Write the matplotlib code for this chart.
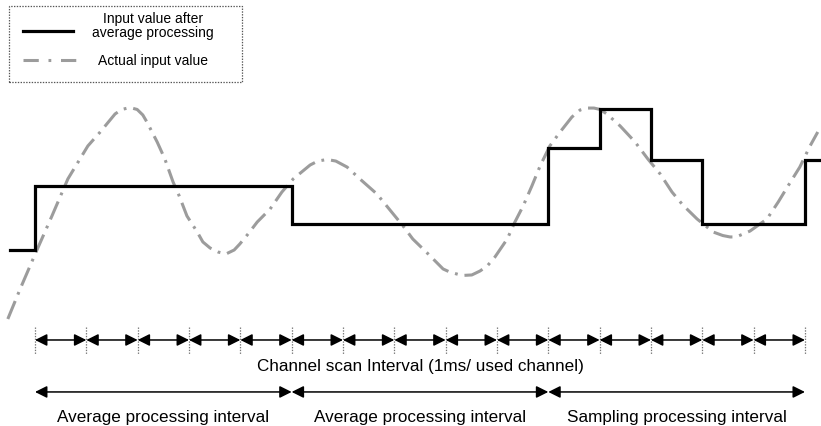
import matplotlib.pyplot as plt
from matplotlib.patches import Rectangle
from matplotlib.lines import Line2D

plt.rcParams['font.family'] = ['Liberation Sans', 'DejaVu Sans']
plt.rcParams['lines.scale_dashes'] = False

# Данные: время в интервалах опроса канала, значение в условных единицах
step_t = [-0.49, 0, 5, 10, 11, 12, 13, 15, 15.32]
step_v = [0, 5, 2, 8, 11, 7, 2, 7, 7]

actual_t = [-0.53, -0.29, 0.02, 0.33, 0.64, 1.03, 1.27, 1.56, 1.69, 1.85,
            1.99, 2.10, 2.18, 2.38, 2.53, 2.69, 2.81, 2.96, 3.16, 3.27,
            3.41, 3.57, 3.72, 3.88, 3.99, 4.15, 4.33, 4.58, 4.81, 5.03,
            5.36, 5.51, 5.69, 5.86, 6.08, 6.33, 6.66, 6.98, 7.17, 7.36,
            7.66, 7.95, 8.08, 8.32, 8.51, 8.67, 8.81, 8.96, 9.20, 9.35,
            9.51, 9.68, 9.84, 10.03, 10.23, 10.46, 10.62, 10.75, 10.89, 11.01,
            11.14, 11.40, 11.69, 11.94, 12.18, 12.41, 12.62, 12.90, 13.21, 13.40,
            13.54, 13.66, 13.93, 14.26, 14.48, 14.67, 14.90, 15.10, 15.25]
actual_v = [-5.39, -3.05, -0.16, 2.66, 5.55, 8.13, 9.22, 10.63, 10.98, 11.13,
            10.98, 10.55, 10.0, 8.44, 7.11, 5.31, 4.22, 2.66, 1.41, 0.63,
            0.16, -0.16, -0.31, 0.0, 0.47, 1.25, 2.19, 3.20, 4.53, 5.55,
            6.64, 6.95, 7.07, 6.95, 6.48, 5.55, 4.38, 2.81, 1.88, 0.86,
            -0.31, -1.48, -1.72, -1.99, -1.95, -1.64, -1.25, -0.55, 0.86, 2.19,
            3.44, 5.0, 6.56, 8.13, 9.22, 10.39, 10.94, 11.09, 11.09, 10.98,
            10.63, 9.69, 8.44, 7.11, 5.94, 4.53, 3.52, 2.42, 1.41, 1.13,
            1.02, 1.02, 1.48, 2.42, 3.75, 5.0, 6.48, 8.13, 9.22]

scan_ticks = list(range(16))          # интервалы опроса канала
process_ticks = [0, 5, 10, 15]        # интервалы обработки
process_labels = ["Average processing interval",
                  "Average processing interval",
                  "Sampling processing interval"]

black_label = "Input value after\naverage processing"
gray_label = "Actual input value"
scan_label = "Channel scan Interval (1ms/ used channel)"

gray = '#9c9c9c'
dash = (0, (14, 5, 2, 5))

fig = plt.figure(figsize=(8.21, 4.27), dpi=100)
ax = fig.add_axes([0, 0, 1, 1])
ax.set_xlim(-0.682, 15.313)
ax.set_ylim(-13.75, 19.61)
ax.axis('off')

# Кривые
ax.plot(actual_t, actual_v, color=gray, lw=2.2, linestyle=dash)
ax.step(step_t, step_v, where='post', color='black', lw=2.3,
        solid_joinstyle='miter')

# Интервалы опроса
row1 = -7.03
for t in scan_ticks:
    ax.plot([t, t], [-6.0, -8.1], color='#777777', lw=0.9, linestyle=(0, (1, 1)))
for a, b in zip(scan_ticks[:-1], scan_ticks[1:]):
    ax.annotate('', xy=(b, row1), xytext=(a, row1),
                arrowprops=dict(arrowstyle='<|-|>,head_length=0.72,head_width=0.36',
                                mutation_scale=10, color='black', lw=1.1,
                                shrinkA=0, shrinkB=0))
ax.text((scan_ticks[0] + scan_ticks[-1]) / 2, -9.06, scan_label,
        ha='center', va='center', fontsize=12.3)

# Интервалы обработки
row2 = -11.09
for a, b, lab in zip(process_ticks[:-1], process_ticks[1:], process_labels):
    ax.annotate('', xy=(b, row2), xytext=(a, row2),
                arrowprops=dict(arrowstyle='<|-|>,head_length=0.72,head_width=0.36',
                                mutation_scale=10, color='black', lw=1.1,
                                shrinkA=0, shrinkB=0))
    ax.text((a + b) / 2, -12.97, lab, ha='center', va='center', fontsize=12.3)

# Легенда
ax.add_patch(Rectangle((0.011, 0.806), 0.284, 0.178, transform=ax.transAxes,
                       fill=False, edgecolor='#555555', lw=0.9,
                       linestyle=(0, (1, 1))))
ax.add_line(Line2D([0.028, 0.089], [0.925, 0.925], transform=ax.transAxes,
                   color='black', lw=2.3))
ax.text(0.186, 0.940, black_label, transform=ax.transAxes, ha='center',
        va='center', multialignment='center', fontsize=10, linespacing=1.0)
ax.add_line(Line2D([0.028, 0.094], [0.857, 0.857], transform=ax.transAxes,
                   color=gray, lw=2.2, linestyle=(0, (11, 7, 2, 7))))
ax.text(0.186, 0.857, gray_label, transform=ax.transAxes, ha='center',
        va='center', fontsize=10)

fig.savefig('out.png', dpi=100)
